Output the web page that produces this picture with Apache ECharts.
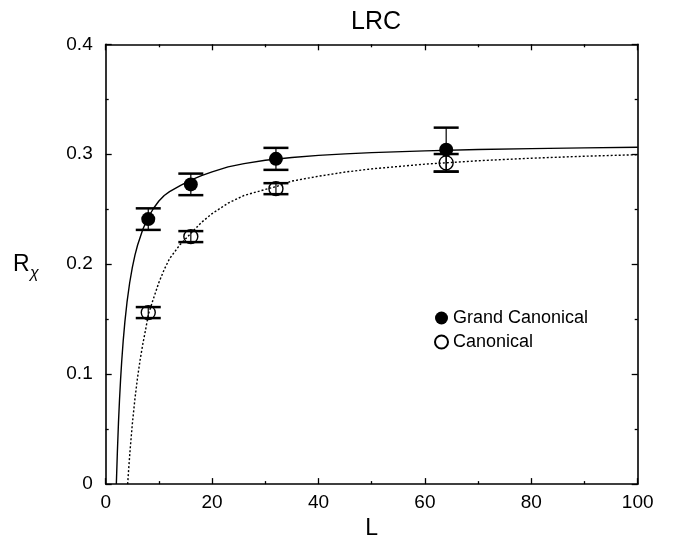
<!DOCTYPE html>
<html>
<head>
<meta charset="utf-8">
<script src="https://cdn.jsdelivr.net/npm/echarts@6/dist/echarts.min.js"></script>
<style>
  html, body { margin: 0; padding: 0; background: #fff; }
  #chart { width: 678px; height: 545px; }
</style>
</head>
<body>
<div id="chart"></div>
<script>
// measured points
const gcL = [8, 16, 32, 64];
const gcR = [0.241, 0.2726, 0.2958, 0.3042];
const gcErr = [0.0098, 0.0098, 0.01, 0.02];

const cL = [8, 16, 32, 64];
const cR = [0.156, 0.2251, 0.2687, 0.2922];
const cErr = [0.005, 0.005, 0.005, 0.008];

// fit curves
const gcFitL = [2.0, 2.2, 2.4, 2.6, 2.8, 3, 3.3, 3.6, 4, 4.5, 5, 5.5, 6, 7, 8, 9, 10, 11, 12, 14, 16, 18, 20, 23, 26, 30, 35, 40, 45, 50, 60, 70, 80, 90, 100];
const gcFitR = [0, 0.0301, 0.0557, 0.0771, 0.0954, 0.1111, 0.131, 0.1473, 0.1652, 0.1829, 0.1968, 0.2082, 0.2175, 0.232, 0.2427, 0.2509, 0.2575, 0.2625, 0.266, 0.2715, 0.2765, 0.2805, 0.284, 0.2885, 0.2915, 0.2945, 0.297, 0.299, 0.3003, 0.3015, 0.3031, 0.3043, 0.3051, 0.3058, 0.3063];

const cFitL = [4.13, 4.3, 4.6, 5, 5.5, 6, 6.5, 7, 7.5, 8, 9, 10, 11, 12, 14, 16, 18, 20, 23, 26, 30, 32, 35, 40, 45, 50, 60, 70, 80, 90, 100];
const cFitR = [0, 0.0123, 0.0319, 0.0544, 0.0778, 0.0974, 0.1139, 0.128, 0.1404, 0.154, 0.1691, 0.1834, 0.1952, 0.205, 0.218, 0.228, 0.238, 0.246, 0.2555, 0.2625, 0.268, 0.2705, 0.2756, 0.28, 0.2838, 0.2867, 0.291, 0.2941, 0.2964, 0.2982, 0.2996];

const xTicks = { min: 0, max: 100, interval: 20 };
const yTicks = { min: 0, max: 0.4, interval: 0.1 };

const FONT = '"Liberation Sans", Arial, sans-serif';

const chart = echarts.init(document.getElementById("chart"), null, { renderer: "canvas" });

function errorBars(L, R, E) {
  return L.map((l, i) => [l, R[i], E[i]]);
}

function renderErr(params, api) {
  const x = api.value(0);
  const y = api.value(1);
  const e = api.value(2);
  const top = api.coord([x, y + e]);
  const bot = api.coord([x, y - e]);
  const hw = 12.5;
  const stroke = { stroke: "#000", lineWidth: 1.2 };
  const cap = { stroke: "#000", lineWidth: 2.5 };
  return {
    type: "group",
    children: [
      { type: "line", shape: { x1: top[0], y1: top[1], x2: bot[0], y2: bot[1] }, style: stroke },
      { type: "line", shape: { x1: top[0] - hw, y1: top[1], x2: top[0] + hw, y2: top[1] }, style: cap },
      { type: "line", shape: { x1: bot[0] - hw, y1: bot[1], x2: bot[0] + hw, y2: bot[1] }, style: cap },
    ],
  };
}

function axisStyle() {
  return {
    axisLine: { show: true, onZero: false, lineStyle: { color: "#000", width: 1.6 } },
    axisTick: { show: true, inside: true, length: 6, lineStyle: { color: "#000", width: 1.3 } },
    minorTick: { show: true, splitNumber: 2, length: 3, lineStyle: { color: "#000", width: 1.3 } },
    splitLine: { show: false },
  };
}

const option = {
  backgroundColor: "#fff",
  animation: false,
  title: {
    text: "LRC",
    left: 371,
    top: 5,
    textAlign: "center",
    textStyle: { fontFamily: FONT, fontSize: 25, fontWeight: "normal", color: "#000" },
  },
  grid: { left: 105.7, right: 40.3, top: 44.3, bottom: 57 },
  legend: {
    data: ["Grand Canonical", "Canonical"],
    orient: "vertical",
    left: 429,
    top: 304,
    itemWidth: 13,
    itemHeight: 13,
    itemGap: 6,
    textStyle: { fontFamily: FONT, fontSize: 18, color: "#000" },
  },
  graphic: [
    { type: "text", left: 13, top: 253, style: { text: "R", fontFamily: FONT, fontSize: 23, fill: "#000" } },
    { type: "text", left: 30, top: 266, style: { text: "χ", fontFamily: FONT, fontSize: 16, fontStyle: "italic", fill: "#000" } },
  ],
  xAxis: [
    Object.assign(axisStyle(), {
      type: "value",
      min: xTicks.min, max: xTicks.max, interval: xTicks.interval,
      name: "L",
      nameLocation: "middle",
      nameGap: 28,
      nameTextStyle: { fontFamily: FONT, fontSize: 23, color: "#000" },
      axisLabel: { fontFamily: FONT, fontSize: 19, color: "#000", margin: 9 },
    }),
    Object.assign(axisStyle(), {
      type: "value", position: "top",
      min: xTicks.min, max: xTicks.max, interval: xTicks.interval,
      axisLabel: { show: false },
    }),
  ],
  yAxis: [
    Object.assign(axisStyle(), {
      type: "value", position: "left",
      min: yTicks.min, max: yTicks.max, interval: yTicks.interval,
      axisLabel: {
        fontFamily: FONT, fontSize: 19, color: "#000", margin: 13,
        formatter: (v) => (v === 0 ? "0" : v.toFixed(1)),
      },
    }),
    Object.assign(axisStyle(), {
      type: "value", position: "right",
      min: yTicks.min, max: yTicks.max, interval: yTicks.interval,
      axisLabel: { show: false },
    }),
  ],
  series: [
    {
      type: "line",
      name: "gcFit",
      data: gcFitL.map((l, i) => [l, gcFitR[i]]),
      showSymbol: false,
      lineStyle: { color: "#000", width: 1.4 },
      z: 2,
    },
    {
      type: "line",
      name: "cFit",
      data: cFitL.map((l, i) => [l, cFitR[i]]),
      showSymbol: false,
      lineStyle: { color: "#000", width: 1.4, type: [2, 2] },
      z: 2,
    },
    {
      type: "custom",
      name: "gcErr",
      data: errorBars(gcL, gcR, gcErr),
      renderItem: renderErr,
      z: 3,
    },
    {
      type: "custom",
      name: "cErr",
      data: errorBars(cL, cR, cErr),
      renderItem: renderErr,
      z: 3,
    },
    {
      type: "scatter",
      name: "Grand Canonical",
      data: gcL.map((l, i) => [l, gcR[i]]),
      symbol: "circle",
      symbolSize: 14,
      itemStyle: { color: "#000", opacity: 1 },
      z: 5,
    },
    {
      type: "scatter",
      name: "Canonical",
      data: cL.map((l, i) => [l, cR[i]]),
      symbol: "circle",
      symbolSize: 14,
      itemStyle: { color: "rgba(255,255,255,0)", borderColor: "#000", borderWidth: 1.4, opacity: 1 },
      z: 5,
    },
  ],
};

chart.setOption(option);
</script>
</body>
</html>
